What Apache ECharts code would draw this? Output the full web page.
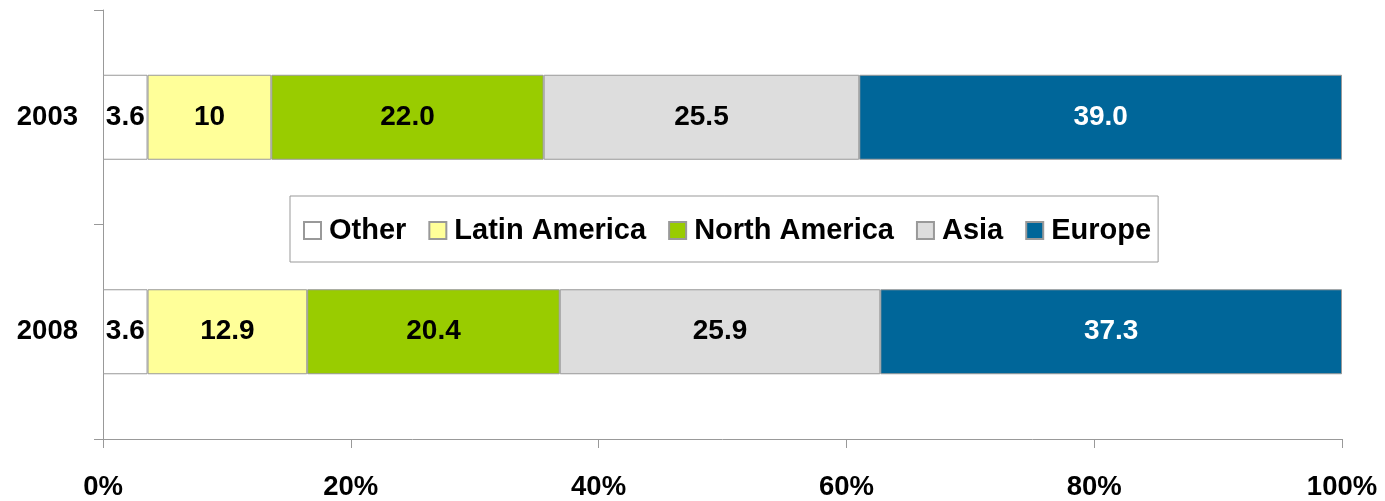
<!DOCTYPE html>
<html>
<head>
<meta charset="utf-8">
<script src="https://cdn.jsdelivr.net/npm/echarts@6/dist/echarts.min.js"></script>
<style>html,body{margin:0;padding:0;background:#fff}#c{width:1385px;height:501px}</style>
</head>
<body>
<div id="c"></div>
<script>
const categories = ['2003', '2008'];
const seriesNames = ['Other', 'Latin America', 'North America', 'Asia', 'Europe'];
const other = [3.6, 3.6];
const latinAmerica = [10, 12.9];
const northAmerica = [22.0, 20.4];
const asia = [25.5, 25.9];
const europe = [39.0, 37.3];
const labelsOther = ['3.6', '3.6'];
const labelsLatin = ['10', '12.9'];
const labelsNorth = ['22.0', '20.4'];
const labelsAsia = ['25.5', '25.9'];
const labelsEurope = ['39.0', '37.3'];
const xTicks = [0, 20, 40, 60, 80, 100];

const values = [other, latinAmerica, northAmerica, asia, europe];
const labels = [labelsOther, labelsLatin, labelsNorth, labelsAsia, labelsEurope];
const colors = ['#ffffff', '#ffff99', '#99cc00', '#dddddd', '#006699'];
const labelColors = ['#000', '#000', '#000', '#000', '#fff'];
const totals = categories.map((_, i) => values.reduce((s, arr) => s + arr[i], 0));

const font = 'Liberation Sans, Arial, sans-serif';
const chart = echarts.init(document.getElementById('c'));
chart.setOption({
  animation: false,
  grid: { left: 103, right: 43, top: 10, bottom: 61 },
  legend: {
    data: seriesNames,
    left: 290, top: 196,
    orient: 'horizontal',
    borderColor: '#999', borderWidth: 1,
    padding: [20, 7, 17, 13],
    itemWidth: 17, itemHeight: 17, itemGap: 22,
    icon: 'rect',
    textStyle: { fontFamily: font, fontWeight: 'bold', fontSize: 29, color: '#000', padding: [0, 0, 0, 3] }
  },
  xAxis: {
    type: 'value', min: 0, max: 100, interval: 20,
    axisLine: { show: true, lineStyle: { color: '#999', width: 1 } },
    axisTick: { show: true, length: 9, lineStyle: { color: '#999' } },
    splitLine: { show: false },
    axisLabel: { formatter: v => xTicks.includes(v) ? v + '%' : '', fontFamily: font, fontWeight: 'bold', fontSize: 27.5, color: '#000', margin: 34 }
  },
  yAxis: {
    type: 'category', data: categories, inverse: true,
    axisLine: { show: true, lineStyle: { color: '#999', width: 1 } },
    axisTick: { show: true, length: 9, lineStyle: { color: '#999' } },
    axisLabel: { fontFamily: font, fontWeight: 'bold', fontSize: 27.5, color: '#000', margin: 25 }
  },
  series: seriesNames.map((name, k) => ({
    name, type: 'bar', stack: 'total', barWidth: 85,
    itemStyle: { color: colors[k], borderColor: '#999', borderWidth: 1 },
    label: {
      show: true, position: 'inside',
      fontFamily: font, fontWeight: 'bold', fontSize: 28, color: labelColors[k],
      formatter: p => labels[k][p.dataIndex]
    },
    data: values[k].map((v, i) => v / totals[i] * 100)
  }))
});
</script>
</body>
</html>
